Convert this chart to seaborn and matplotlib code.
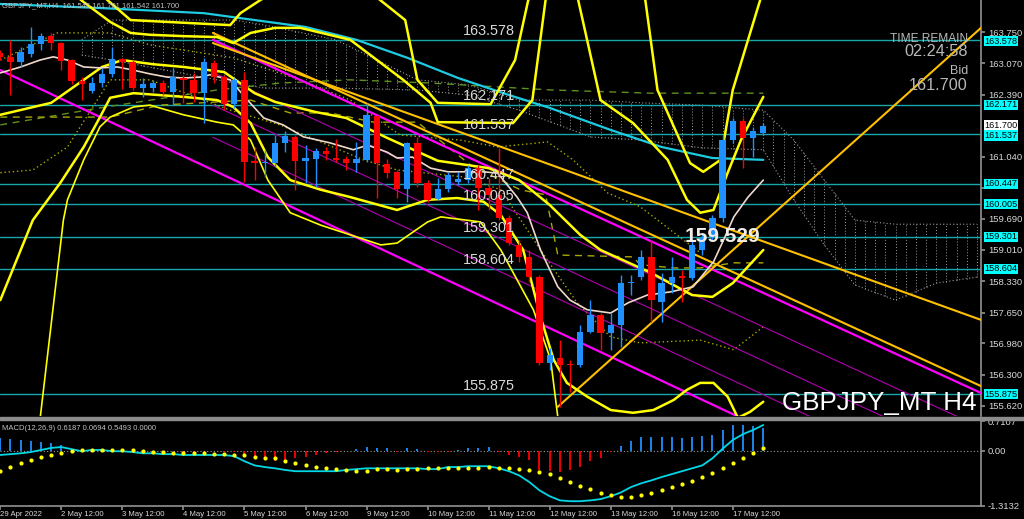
import numpy as np
import matplotlib
matplotlib.use("Agg")
import matplotlib.pyplot as plt
import matplotlib.transforms as mtransforms
import seaborn as sns

# === candles: GBPJPY H4, 29 Apr 12:00 .. 18 May 00:00 ===
opens = [163.29, 163.21, 163.10, 163.27, 163.49, 163.66, 163.51, 163.14, 162.68, 162.47,
         162.64, 162.84, 163.16, 163.10, 162.53, 162.53, 162.64, 162.45, 162.75, 162.71,
         162.42, 163.08, 162.77, 162.18, 162.71, 160.95, 160.90, 160.90, 161.34, 161.47,
         160.95, 160.99, 161.16, 161.01, 160.99, 160.90, 160.97, 161.93, 160.88, 160.71,
         160.34, 161.34, 160.47, 160.12, 160.34, 160.49, 160.53, 160.79, 160.36, 160.21,
         159.71, 159.12, 158.86, 158.42, 156.56, 156.66, 156.53, 156.51, 157.23, 157.60,
         157.21, 157.38, 158.29, 158.42, 158.86, 157.88, 158.29, 158.45, 158.40, 159.01,
         159.29, 159.71, 161.40, 161.82, 161.45, 161.56]
highs = [163.36, 163.58, 163.42, 163.86, 163.73, 163.73, 163.53, 163.16, 162.77, 162.77,
         162.97, 163.42, 163.19, 163.14, 162.75, 162.71, 162.71, 162.97, 162.82, 162.86,
         163.19, 163.14, 162.82, 162.75, 162.88, 161.25, 161.19, 161.51, 161.60, 161.51,
         161.29, 161.23, 161.25, 161.42, 161.06, 161.36, 162.21, 161.95, 160.99, 160.75,
         161.36, 161.47, 160.53, 160.58, 160.71, 160.71, 160.86, 160.86, 160.58, 161.23,
         159.77, 159.23, 159.01, 158.47, 156.88, 157.05, 156.62, 157.38, 157.92, 157.64,
         157.64, 158.47, 158.47, 159.01, 159.23, 158.51, 158.86, 158.58, 159.23, 159.38,
         159.77, 161.51, 161.88, 161.88, 161.69, 161.77]
lows = [163.14, 162.38, 162.99, 163.21, 163.36, 163.36, 162.92, 162.62, 162.27, 162.42,
        162.55, 162.77, 162.51, 162.49, 162.34, 162.45, 162.38, 162.16, 162.21, 162.23,
        161.77, 162.64, 162.05, 162.10, 160.49, 160.53, 160.60, 160.82, 161.14, 160.32,
        160.47, 160.38, 160.97, 160.92, 160.75, 160.71, 160.92, 160.14, 160.58, 160.14,
        160.06, 160.38, 160.06, 160.10, 160.27, 160.42, 160.47, 159.88, 159.88, 159.66,
        159.12, 158.75, 158.32, 156.51, 156.40, 155.60, 155.92, 156.47, 157.21, 156.84,
        156.84, 156.90, 158.03, 158.36, 157.45, 157.45, 158.08, 157.88, 158.36, 158.90,
        159.23, 159.62, 161.34, 160.79, 161.03, 161.51]
closes = [163.21, 163.10, 163.32, 163.49, 163.66, 163.51, 163.12, 162.68, 162.62, 162.64,
          162.84, 163.16, 163.10, 162.53, 162.62, 162.64, 162.45, 162.77, 162.71, 162.42,
          163.10, 162.77, 162.18, 162.71, 160.92, 160.90, 160.92, 161.34, 161.49, 160.95,
          161.01, 161.16, 161.10, 160.97, 160.90, 160.99, 161.95, 160.90, 160.69, 160.34,
          161.34, 160.47, 160.10, 160.34, 160.64, 160.56, 160.79, 160.36, 160.21, 159.71,
          159.16, 158.86, 158.42, 156.56, 156.73, 156.51, 156.51, 157.23, 157.60, 157.21,
          157.38, 158.29, 158.32, 158.86, 157.92, 158.29, 158.42, 158.40, 159.12, 159.27,
          159.71, 161.40, 161.82, 161.45, 161.60, 161.70]

tick_pos = [0, 6, 12, 18, 24, 30, 36, 42, 48, 54, 60, 66, 72]
tick_labels = ["29 Apr 2022", "2 May 12:00", "3 May 12:00", "4 May 12:00", "5 May 12:00",
               "6 May 12:00", "9 May 12:00", "10 May 12:00", "11 May 12:00", "12 May 12:00",
               "13 May 12:00", "16 May 12:00", "17 May 12:00"]

levels = [163.578, 162.171, 161.537, 160.447, 160.005, 159.301, 158.604, 155.875]
price_ticks = [163.750, 163.070, 162.390, 161.040, 160.360, 159.690, 159.010,
               158.330, 157.650, 156.980, 156.300, 155.620]
bid = 161.700

# === indicator lines, read at sparse candle positions ===
cyan_x = [0, 10, 20, 30, 35, 40, 45, 50, 54, 60, 65, 70, 75]
cyan_y = [164.36, 164.27, 164.16, 163.86, 163.58, 163.19, 162.75, 162.38, 162.10, 161.62,
          161.25, 161.01, 160.97]

white_x = [0, 2, 3.9, 5.2, 6.6, 8.2, 9.8, 11.5, 13.1, 14.7, 16.4, 18, 19.7, 20.6, 22.6,
           24.1, 25.9, 27.8, 29.8, 32.4, 34.7, 36.1, 38, 39, 40.5, 42.3, 44, 45.5, 47.5,
           48.9, 50.8, 51.8, 53.1, 54.8, 56, 57.7, 60, 61.7, 63.6, 65.9, 68.1, 70.1, 71.1,
           72.1, 73.5, 75]
white_y = [162.86, 162.99, 163.14, 163.21, 163.14, 162.99, 162.97, 162.99, 162.92, 162.84,
           162.77, 162.75, 162.77, 162.82, 162.71, 162.32, 161.88, 161.73, 161.47, 161.34,
           161.19, 161.29, 161.14, 161.01, 161.03, 160.79, 160.71, 160.71, 160.71, 160.68,
           160.16, 159.82, 159.01, 158.21, 157.92, 157.71, 157.64, 157.86, 158.03, 158.10,
           158.21, 158.75, 159.23, 159.73, 160.16, 160.53]

bb_mid_x = [0, 5, 10, 12, 15, 18, 22, 25, 27, 31, 34, 38, 43, 48, 51, 54, 57, 59, 64, 68,
            70, 72, 75]
bb_mid_y = [161.95, 162.21, 162.99, 163.14, 163.05, 162.99, 162.88, 162.42, 162.23, 162.01,
            161.88, 161.45, 160.95, 160.79, 160.53, 159.99, 159.34, 159.01, 158.51, 158.03,
            157.99, 158.29, 159.01]

bb_up2_x = [6.9, 7.9, 10.8, 12.8, 14.7, 18, 21.3, 22.9, 24.6, 27, 29.5, 34.4, 39.6,
            42.3, 43, 50.4, 52.3, 53.6, 55.1, 56.8, 59, 62.2, 65.6, 67.5, 68.8, 70.1, 71.5,
            72.8, 75]
bb_up2_y = [164.77, 164.45, 163.97, 163.73, 163.69, 163.66, 163.64, 163.51, 163.73,
            163.84, 163.84, 163.58, 162.71, 162.21, 161.79, 161.77, 162.27, 164.45, 165.32,
            164.45, 162.27, 161.77, 160.97, 160.10, 159.82, 159.88, 160.69, 161.40, 162.34]

bb_up3_x = [9.8, 10.5, 12.8, 22.6, 23.6, 25.6, 32.4, 39.8, 41, 43, 48.2, 50.6, 51.9, 58,
            63.4, 64.6, 67.8, 69.1, 70.8, 72, 74.7, 75]
bb_up3_y = [164.66, 164.45, 164.01, 163.90, 164.16, 164.45, 165.32, 164.01, 162.71, 162.21,
            162.18, 163.14, 164.45, 165.75, 164.45, 162.49, 160.90, 160.71, 160.97, 162.49,
            164.45, 164.66]

bb_lo2_x = [0, 3.2, 5.9, 8.2, 9.8, 10.8, 13.1, 18, 21.3, 22.9, 24.6, 26.3, 28.5, 31.5,
            34.4, 39, 42, 44.9, 47.5, 49.2, 51.4, 53.1, 54.4, 55.7, 57.7, 60, 62.2, 64.2,
            66.2, 67.5, 68.8, 70.1, 71.5, 72.5, 73.7, 75]
bb_lo2_y = [157.92, 159.66, 160.47, 161.25, 161.90, 162.32, 162.42, 162.34, 162.27, 162.12,
            161.77, 161.03, 160.53, 160.32, 160.16, 159.88, 160.10, 160.14, 160.06, 159.77,
            159.01, 157.56, 156.62, 156.12, 155.82, 155.53, 155.47, 155.53, 155.75, 155.97,
            156.12, 156.12, 155.82, 155.36, 155.49, 155.71]

bb_lo3_x = [3.9, 6.2, 6.6, 8.2, 9.8, 10.8, 13.1, 14.7, 18, 21.3, 22.9, 24.6, 26.3, 28.5,
            31.5, 34.4, 37.4, 39, 42, 43.3, 47.2, 49.2, 52.4, 54.1, 54.8]
bb_lo3_y = [155.32, 159.66, 160.10, 160.97, 161.69, 161.90, 162.12, 162.16, 161.95, 161.79,
            161.73, 161.40, 160.53, 159.82, 159.55, 159.34, 159.12, 159.16, 159.62, 159.73,
            159.62, 159.01, 157.71, 156.62, 155.38]

dot_up_x = [0, 5.6, 10.8, 14.7, 22.9, 29.5, 34.4, 39.3, 45.2, 48.9, 53.8, 56.3, 59.7, 62.9,
            68.8]
dot_up_y = [163.14, 163.73, 163.73, 163.47, 163.19, 162.71, 162.27, 161.51, 161.40, 161.25,
            161.36, 160.97, 160.25, 159.95, 158.95]

dot_lo_x = [0, 3.2, 6.6, 9.1, 10.8, 14.7, 22.6, 27.5, 35.7, 39, 45.5, 49.2, 53.1, 56.7, 60,
            62.9, 68.8, 72.1, 75]
dot_lo_y = [160.69, 160.75, 161.25, 162.12, 162.71, 162.71, 162.05, 161.73, 160.97, 160.75,
            160.60, 160.32, 159.01, 157.86, 157.12, 156.99, 157.05, 156.84, 157.34]

green_dash_x = [0, 9.8, 21.3, 27.5, 34.4, 42.3, 54.1, 63.9, 75]
green_dash_y = [161.73, 162.10, 162.49, 162.64, 162.71, 162.64, 162.49, 162.42, 162.42]

olive_dash_x = [0, 10.8, 15.7, 24.6, 28.5, 32.4, 36.7, 41, 46.2, 51.1, 53.6, 54.8, 62.2,
                62.9, 66.2, 68.8, 72.1, 75]
olive_dash_y = [161.90, 161.90, 162.16, 162.27, 161.99, 161.99, 161.79, 161.79, 160.86,
                160.32, 160.21, 158.90, 158.86, 158.69, 158.62, 158.62, 158.73, 158.73]

cloud_x = [8, 11, 23, 26, 33, 41, 46, 51, 58, 63, 69, 75, 78, 81, 84, 88, 92, 96]
cloud_top = [163.58, 164.01, 164.01, 163.90, 163.58, 162.71, 162.60, 162.27, 162.27, 162.21,
             162.16, 162.05, 161.40, 160.53, 159.66, 159.57, 159.57, 159.57]
cloud_bot = [163.25, 163.14, 162.64, 162.53, 162.53, 162.49, 162.38, 162.05, 161.47, 161.40,
             161.23, 161.19, 160.10, 159.12, 158.25, 157.92, 158.29, 158.42]

# trend lines: (x0, x1), (p0, p1)
magenta_lines = [([0, 74.7], [162.92, 155.16]), ([20.9, 96.4], [163.58, 155.90])]
purple_lines = [([20.9, 96.4], [162.87, 155.15]), ([20.9, 96.4], [162.16, 154.40]),
                ([20.9, 96.4], [161.46, 153.65])]
gold_lines = [([20.9, 96.4], [163.51, 157.49]), ([20.9, 96.4], [163.73, 156.05]),
              ([54.8, 96.4], [155.60, 163.84])]

# === MACD(12,26,9) ===
macd_hist = [0.30, 0.28, 0.26, 0.23, 0.22, 0.18, 0.14, 0.03, 0.00, -0.04,
             -0.04, -0.02, -0.02, -0.03, -0.03, -0.02, -0.03, -0.01, -0.02, -0.02,
             -0.01, -0.01, -0.02, -0.02, -0.14, -0.18, -0.22, -0.25, -0.22, -0.18,
             -0.14, -0.10, -0.05, -0.02, -0.01, 0.04, 0.10, 0.07, 0.06, -0.02,
             0.06, 0.04, -0.02, -0.04, -0.02, 0.02, 0.06, 0.07, 0.09, -0.02,
             -0.09, -0.14, -0.22, -0.47, -0.49, -0.51, -0.47, -0.39, -0.25, -0.17,
             -0.04, 0.11, 0.23, 0.34, 0.34, 0.34, 0.34, 0.31, 0.34, 0.35,
             0.38, 0.51, 0.62, 0.62, 0.59, 0.55]
macd_line = [-0.10, -0.08, -0.06, -0.03, 0.02, 0.07, 0.09, 0.04, -0.01, 0.02,
             0.02, -0.01, -0.01, -0.03, -0.06, -0.06, -0.08, -0.08, -0.10, -0.10,
             -0.10, -0.10, -0.10, -0.13, -0.25, -0.35, -0.39, -0.42, -0.46, -0.49,
             -0.49, -0.49, -0.49, -0.49, -0.46, -0.44, -0.42, -0.42, -0.42, -0.42,
             -0.42, -0.42, -0.44, -0.44, -0.39, -0.39, -0.37, -0.37, -0.37, -0.42,
             -0.49, -0.59, -0.75, -0.95, -1.09, -1.19, -1.21, -1.21, -1.19, -1.16,
             -1.09, -1.00, -0.87, -0.78, -0.71, -0.63, -0.56, -0.49, -0.42, -0.35,
             -0.18, 0.05, 0.26, 0.40, 0.50, 0.62]
macd_signal = [-0.49, -0.39, -0.30, -0.22, -0.15, -0.10, -0.06, -0.01, 0.02, 0.02,
               0.02, 0.02, 0.02, 0.02, -0.01, -0.03, -0.03, -0.06, -0.06, -0.06,
               -0.06, -0.08, -0.08, -0.10, -0.10, -0.15, -0.18, -0.18, -0.25, -0.30,
               -0.35, -0.39, -0.42, -0.44, -0.46, -0.49, -0.49, -0.44, -0.44, -0.46,
               -0.44, -0.44, -0.42, -0.42, -0.42, -0.42, -0.42, -0.42, -0.39, -0.42,
               -0.42, -0.44, -0.46, -0.51, -0.56, -0.66, -0.75, -0.85, -0.92, -1.02,
               -1.07, -1.12, -1.12, -1.07, -1.02, -0.95, -0.87, -0.80, -0.73, -0.63,
               -0.54, -0.42, -0.30, -0.18, -0.06, 0.07]

# ---------------------------------------------------------------------------
sns.set_theme(style="dark", rc={"axes.facecolor": "black", "figure.facecolor": "black"})
plt.rcParams["font.family"] = ["Liberation Sans", "DejaVu Sans"]

W, H = 1024, 519
fig = plt.figure(figsize=(W / 100, H / 100), dpi=100, facecolor="black")
ax = fig.add_axes([0, 1 - 416 / H, 981 / W, 416 / H])
axm = fig.add_axes([0, 1 - 505.5 / H, 981 / W, 85.5 / H])
XMAX = 96.4
GREY = "#8c8c8c"
TXT = "#d8d8d8"

# separator band between the two panels
fig.patches.append(plt.Rectangle((0, 1 - 419.5 / H), 1, 3 / H, transform=fig.transFigure,
                                 color=GREY, zorder=0))

for a in (ax, axm):
    a.set_facecolor("black")
    a.set_xlim(-0.03, XMAX)
    a.grid(False)
    for s in a.spines.values():
        s.set_visible(False)
    a.spines["right"].set_visible(True)
    a.spines["right"].set_color(GREY)
ax.set_ylim(155.40, 164.446)
axm.set_ylim(-1.31, 0.74)
for side in ("top", "bottom"):
    axm.spines[side].set_visible(True)
    axm.spines[side].set_color(GREY)

# ichimoku cloud: dotted hatch
for i in range(8, 97):
    lo_v = float(np.interp(i, cloud_x, cloud_bot))
    hi_v = float(np.interp(i, cloud_x, cloud_top))
    ax.plot([i, i], [lo_v, hi_v], color="#9a9a9a", lw=0.7, ls=(0, (1, 2)), zorder=1)
sns.lineplot(x=cloud_x, y=cloud_top, ax=ax, color="#9a9a9a", lw=0.8, ls=(0, (1, 2)), zorder=1)
sns.lineplot(x=cloud_x, y=cloud_bot, ax=ax, color="#9a9a9a", lw=0.8, ls=(0, (1, 2)), zorder=1)

# horizontal levels
for lv in levels:
    ax.axhline(lv, color="#17a7ab", lw=1.0, zorder=2)
    ax.text(45.5, lv + 0.035, f"{lv:.3f}", color=TXT, fontsize=10.4, ha="left", va="bottom",
            zorder=9)

# dashed / dotted ichimoku-style lines
sns.lineplot(x=green_dash_x, y=green_dash_y, ax=ax, color="#5f8f1f", lw=1.0, ls=(0, (5, 4)), zorder=2)
sns.lineplot(x=olive_dash_x, y=olive_dash_y, ax=ax, color="#a8a800", lw=1.0, ls=(0, (5, 4)), zorder=2)
sns.lineplot(x=dot_up_x, y=dot_up_y, ax=ax, color="#a8a800", lw=1.0, ls=(0, (1, 2)), zorder=2)
sns.lineplot(x=dot_lo_x, y=dot_lo_y, ax=ax, color="#a8a800", lw=1.0, ls=(0, (1, 2)), zorder=2)

# trend lines
for xs, ys in purple_lines:
    ax.plot(xs, ys, color="#b000b0", lw=0.8, zorder=3)
for xs, ys in magenta_lines:
    ax.plot(xs, ys, color="#ff00ff", lw=1.6, zorder=3)
for xs, ys in gold_lines:
    ax.plot(xs, ys, color="#ffc000", lw=1.5, zorder=3)

# moving averages and bands
sns.lineplot(x=cyan_x, y=cyan_y, ax=ax, color="#1ecbe1", lw=1.6, zorder=4)
sns.lineplot(x=bb_lo3_x, y=bb_lo3_y, ax=ax, color="#ffff00", lw=1.2, zorder=4)
sns.lineplot(x=bb_up3_x, y=bb_up3_y, ax=ax, color="#ffff00", lw=1.8, zorder=4)
sns.lineplot(x=bb_up2_x, y=bb_up2_y, ax=ax, color="#ffff00", lw=1.8, zorder=4)
sns.lineplot(x=bb_lo2_x, y=bb_lo2_y, ax=ax, color="#ffff00", lw=1.8, zorder=4)
sns.lineplot(x=bb_mid_x, y=bb_mid_y, ax=ax, color="#ffff00", lw=1.8, zorder=4)
sns.lineplot(x=white_x, y=white_y, ax=ax, color="#f0d8cc", lw=1.2, zorder=5)

# candles
for i, (o, h, l, c) in enumerate(zip(opens, highs, lows, closes)):
    col = "#1e90ff" if c >= o else "#ff0000"
    ax.vlines(i, l, h, color=col, lw=1.0, zorder=6)
    ax.bar(i, max(abs(c - o), 0.02), bottom=min(o, c), width=0.62, color=col, zorder=7,
           linewidth=0)

# price axis (160.360 sits under the 160.447 box, so its label is left blank)
ax.yaxis.tick_right()
ax.set_yticks(price_ticks)
ax.set_yticklabels(["" if p == 160.360 else f"{p:.3f}" for p in price_ticks])
ax.tick_params(axis="y", colors=GREY, labelcolor=TXT, labelsize=6.8, length=3, pad=2,
               right=True, left=False)
ax.set_xticks([])
ax.set_ylabel("")

boxtr = mtransforms.blended_transform_factory(ax.transAxes, ax.transData)
box_y = {163.578: 163.55, 161.537: 161.50}
for lv in levels:
    ax.text(1.0035, box_y.get(lv, lv), f"{lv:.3f}", transform=boxtr, color="black",
            fontsize=6.6, va="center", ha="left", clip_on=False, zorder=20,
            bbox=dict(boxstyle="square,pad=0.06", fc="#00ffff", ec="none"))
ax.text(1.0035, bid + 0.02, f"{bid:.3f}", transform=boxtr, color="black", fontsize=6.6,
        va="center", ha="left", clip_on=False, zorder=21,
        bbox=dict(boxstyle="square,pad=0.06", fc="white", ec="none"))

# texts
ax.text(0.002, 0.986, "GBPJPY_MT,H4  161.545 161.701 161.542 161.700", transform=ax.transAxes,
        color="#c0c0c0", fontsize=5.5, va="center", ha="left", zorder=20)
rx = 968 / 981
ax.text(rx, 1 - 38.5 / 416, "TIME REMAIN", transform=ax.transAxes, color="#b8b8b8",
        fontsize=8.6, ha="right", va="center", zorder=20)
ax.text(rx, 1 - 52 / 416, "02:24:58", transform=ax.transAxes, color="#b8b8b8",
        fontsize=11.7, ha="right", va="center", zorder=20)
ax.text(rx, 1 - 71.5 / 416, "Bid", transform=ax.transAxes, color="#b8b8b8",
        fontsize=9, ha="right", va="center", zorder=20)
ax.text(rx, 1 - 85 / 416, "161.700", transform=ax.transAxes, color="#b8b8b8",
        fontsize=11.6, ha="right", va="center", zorder=20)
ax.text(977 / 981, 1 - 403 / 416, "GBPJPY_MT H4", transform=ax.transAxes, color="white",
        fontsize=18.7, ha="right", va="center", zorder=20)
ax.text(71.0, 159.30, "159.529", color="#f2ece6", fontsize=15, fontweight="bold",
        ha="center", va="center", zorder=20)

# MACD panel
idx = list(range(len(macd_hist)))
axm.axhline(0, color="#9a9a9a", lw=0.8, ls=(0, (1, 2)), zorder=1)
axm.vlines(idx, 0, macd_hist, colors=["#1e90ff" if v >= 0 else "#ff0000" for v in macd_hist],
           lw=1.3, zorder=2)
sns.lineplot(x=idx, y=macd_line, ax=axm, color="#00d8e8", lw=1.3, zorder=3)
sns.scatterplot(x=idx, y=macd_signal, ax=axm, color="#ffff00", s=9, linewidth=0, zorder=4)
axm.text(0.002, 0.90, "MACD(12,26,9) 0.6187 0.0694 0.5493 0.0000", transform=axm.transAxes,
         color="#c0c0c0", fontsize=5.5, va="center", ha="left")
axm.yaxis.tick_right()
axm.set_yticks([0.7107, 0.0, -1.3132])
axm.set_yticklabels(["0.7107", "0.00", "-1.3132"])
axm.tick_params(axis="y", colors=GREY, labelcolor=TXT, labelsize=6.8, length=3, pad=2,
                right=True, left=False)
axm.set_xticks(tick_pos)
axm.set_xticklabels(tick_labels, ha="left")
axm.tick_params(axis="x", colors=GREY, labelcolor=TXT, labelsize=5.6, length=3, pad=1,
                bottom=True)
axm.set_ylabel("")
axm.set_xlabel("")

fig.savefig("out.png", dpi=100, facecolor="black")
